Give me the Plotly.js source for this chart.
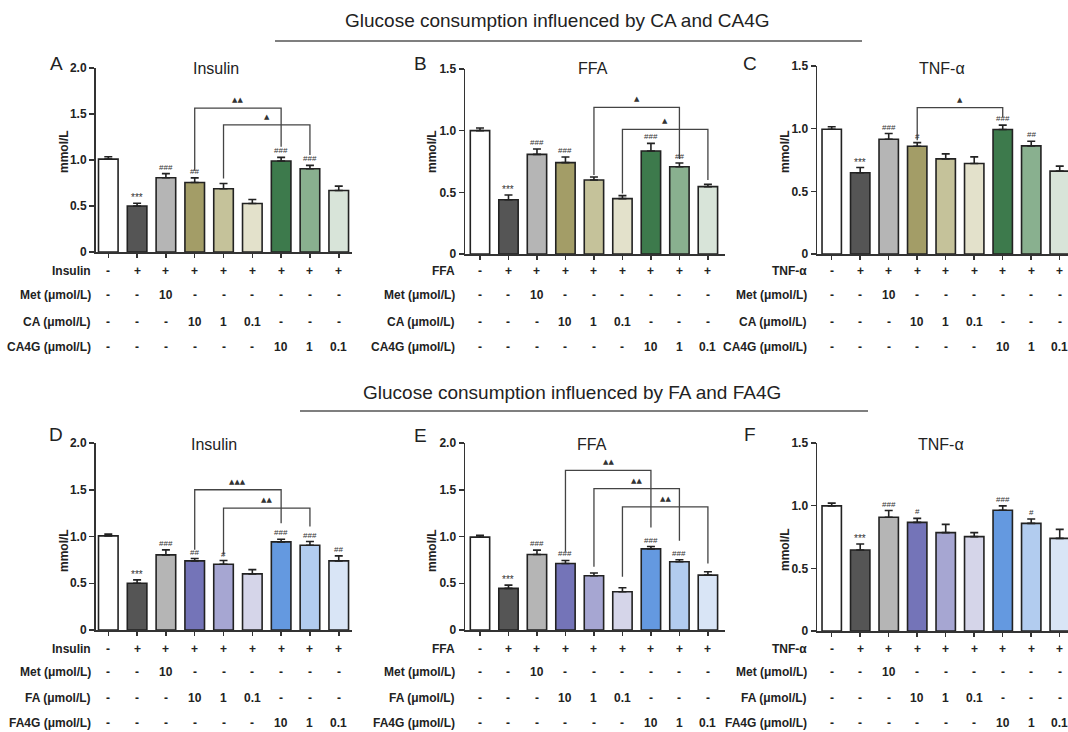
<!DOCTYPE html>
<html>
<head>
<meta charset="utf-8">
<script src="https://cdn.plot.ly/plotly-3.0.1.min.js"></script>
<style>html,body{margin:0;padding:0;background:#fff;}#chart{width:1068px;height:732px;}</style>
</head>
<body>
<div id="chart"></div>
<script>
// ---------- data ----------
const groups = ['Control', 'Model', 'Met 10', 'Drug 10', 'Drug 1', 'Drug 0.1', 'Gluc 10', 'Gluc 1', 'Gluc 0.1'];

const insulinCA    = [1.01, 0.50, 0.807, 0.756, 0.687, 0.527, 0.989, 0.905, 0.669];
const insulinCAErr = [0.025, 0.03, 0.045, 0.05, 0.058, 0.044, 0.04, 0.037, 0.047];
const ffaCA        = [1.0, 0.44, 0.808, 0.741, 0.6, 0.449, 0.835, 0.708, 0.546];
const ffaCAErr     = [0.022, 0.038, 0.043, 0.045, 0.024, 0.024, 0.062, 0.03, 0.019];
const tnfCA        = [0.995, 0.648, 0.916, 0.86, 0.759, 0.722, 0.993, 0.863, 0.661];
const tnfCAErr     = [0.02, 0.042, 0.045, 0.029, 0.04, 0.053, 0.035, 0.037, 0.04];
const insulinFA    = [1.007, 0.5, 0.804, 0.739, 0.704, 0.6, 0.943, 0.907, 0.739];
const insulinFAErr = [0.018, 0.036, 0.053, 0.025, 0.039, 0.046, 0.028, 0.039, 0.054];
const ffaFA        = [0.993, 0.445, 0.808, 0.712, 0.58, 0.409, 0.868, 0.73, 0.587];
const ffaFAErr     = [0.021, 0.035, 0.046, 0.032, 0.029, 0.043, 0.025, 0.021, 0.036];
const tnfFA        = [0.998, 0.646, 0.907, 0.867, 0.785, 0.753, 0.963, 0.859, 0.739];
const tnfFAErr     = [0.022, 0.048, 0.054, 0.032, 0.066, 0.032, 0.035, 0.035, 0.072];

const sigA = ['', '***', '###', '##', '', '', '###', '###', ''];
const sigB = ['', '***', '###', '###', '', '', '###', '##', ''];
const sigC = ['', '***', '###', '#', '', '', '###', '##', ''];
const sigD = ['', '***', '###', '##', '#', '', '###', '###', '##'];
const sigE = ['', '***', '###', '###', '', '', '###', '###', ''];
const sigF = ['', '***', '###', '#', '', '', '###', '#', ''];

// brackets: [fromBar, toBar, leftLegBottom, top, rightLegBottom, label]
const bracketsA = [[3, 6, 0.884, 1.564, 1.145, '▲▲'], [4, 7, 0.80, 1.382, 1.055, '▲']];
const bracketsB = [[4, 7, 0.64, 1.189, 0.77, '▲'], [5, 8, 0.49, 1.011, 0.6, '▲']];
const bracketsC = [[3, 6, 0.908, 1.168, 1.094, '▲']];
const bracketsD = [[3, 6, 0.857, 1.5, 1.143, '▲▲▲'], [4, 7, 0.804, 1.304, 1.107, '▲▲']];
const bracketsE = [[3, 6, 0.836, 1.708, 1.096, '▲▲'], [4, 7, 0.676, 1.512, 0.954, '▲▲'], [5, 8, 0.569, 1.317, 0.712, '▲▲']];
const bracketsF = [];

const rowStim = ['-', '+', '+', '+', '+', '+', '+', '+', '+'];
const rowMet  = ['-', '-', '10', '-', '-', '-', '-', '-', '-'];
const rowDrug = ['-', '-', '-', '10', '1', '0.1', '-', '-', '-'];
const rowGluc = ['-', '-', '-', '-', '-', '-', '10', '1', '0.1'];

const colorsCA = ['#ffffff', '#555555', '#b5b5b5', '#a39d67', '#c5c29a', '#e3e1cb', '#3d7a4c', '#89b08f', '#d8e4d9'];
const colorsFA = ['#ffffff', '#555555', '#b5b5b5', '#7474b8', '#a6a6d2', '#d5d5e9', '#6499e0', '#b2ccef', '#d9e5f6'];

const ticks15 = [0, 0.5, 1.0, 1.5];
const ticks15Text = ['0', '0.5', '1.0', '1.5'];
const ticks20 = [0, 0.5, 1.0, 1.5, 2.0];
const ticks20Text = ['0', '0.5', '1.0', '1.5', '2.0'];

const headerTop = 'Glucose consumption influenced by CA and CA4G';
const headerBottom = 'Glucose consumption influenced by FA and FA4G';

// ---------- layout helpers ----------
const W = 1068, H = 732;
const fx = p => p / W;
const fy = p => 1 - p / H;
const FONT = 'Liberation Sans, Arial, Helvetica, sans-serif';
const INK = '#222222';

const panels = [
  {letter: 'A', title: 'Insulin', vals: insulinCA, errs: insulinCAErr, colors: colorsCA, sig: sigA, br: bracketsA,
   x0: 95.5, x1: 352, y0: 252, y1: 68, ymax: 2, tv: ticks20, tt: ticks20Text, xr: [-0.444, 8.46],
   letterPos: [56, 63], titlePos: [216, 68], ylabPos: [64, 152], rowRight: 93, rowY: [271, 295, 322, 347],
   rows: ['Insulin', 'Met (μmol/L)', 'CA (μmol/L)', 'CA4G (μmol/L)']},
  {letter: 'B', title: 'FFA', vals: ffaCA, errs: ffaCAErr, colors: colorsCA, sig: sigB, br: bracketsB,
   x0: 465, x1: 725, y0: 254, y1: 69, ymax: 1.5, tv: ticks15, tt: ticks15Text, xr: [-0.526, 8.6],
   letterPos: [420, 64], titlePos: [593, 68], ylabPos: [432, 152], rowRight: 457, rowY: [271, 295, 322, 347],
   rows: ['FFA', 'Met (μmol/L)', 'CA (μmol/L)', 'CA4G (μmol/L)']},
  {letter: 'C', title: 'TNF-α', vals: tnfCA, errs: tnfCAErr, colors: colorsCA, sig: sigC, br: bracketsC,
   x0: 817, x1: 1068, y0: 254, y1: 66, ymax: 1.5, tv: ticks15, tt: ticks15Text, xr: [-0.516, 8.29],
   letterPos: [750, 63], titlePos: [942, 68], ylabPos: [785, 152], rowRight: 809, rowY: [271, 295, 322, 347],
   rows: ['TNF-α', 'Met (μmol/L)', 'CA (μmol/L)', 'CA4G (μmol/L)']},
  {letter: 'D', title: 'Insulin', vals: insulinFA, errs: insulinFAErr, colors: colorsFA, sig: sigD, br: bracketsD,
   x0: 95.5, x1: 352, y0: 630, y1: 443, ymax: 2, tv: ticks20, tt: ticks20Text, xr: [-0.444, 8.46],
   letterPos: [56, 434], titlePos: [214, 445], ylabPos: [64, 551], rowRight: 93, rowY: [649, 672, 698, 723],
   rows: ['Insulin', 'Met (μmol/L)', 'FA (μmol/L)', 'FA4G (μmol/L)']},
  {letter: 'E', title: 'FFA', vals: ffaFA, errs: ffaFAErr, colors: colorsFA, sig: sigE, br: bracketsE,
   x0: 465, x1: 725, y0: 630, y1: 443, ymax: 2, tv: ticks20, tt: ticks20Text, xr: [-0.526, 8.6],
   letterPos: [420, 435], titlePos: [592, 445], ylabPos: [432, 551], rowRight: 457, rowY: [649, 672, 698, 723],
   rows: ['FFA', 'Met (μmol/L)', 'FA (μmol/L)', 'FA4G (μmol/L)']},
  {letter: 'F', title: 'TNF-α', vals: tnfFA, errs: tnfFAErr, colors: colorsFA, sig: sigF, br: bracketsF,
   x0: 817, x1: 1068, y0: 631, y1: 443, ymax: 1.5, tv: ticks15, tt: ticks15Text, xr: [-0.516, 8.29],
   letterPos: [750, 434], titlePos: [941, 445], ylabPos: [785, 550], rowRight: 809, rowY: [649, 672, 698, 723],
   rows: ['TNF-α', 'Met (μmol/L)', 'FA (μmol/L)', 'FA4G (μmol/L)']}
];

const data = [];
const layout = {
  width: W, height: H,
  margin: {l: 0, r: 0, t: 0, b: 0},
  paper_bgcolor: '#ffffff', plot_bgcolor: 'rgba(0,0,0,0)',
  showlegend: false,
  font: {family: FONT, color: INK},
  annotations: [], shapes: []
};

const xs = groups.map((g, i) => i);
const tableRows = [rowStim, rowMet, rowDrug, rowGluc];

panels.forEach((p, k) => {
  const n = k + 1;
  const xa = 'x' + (n === 1 ? '' : n), ya = 'y' + (n === 1 ? '' : n);
  data.push({
    type: 'bar', x: xs, y: p.vals, xaxis: xa, yaxis: ya, width: 0.68,
    marker: {color: p.colors, line: {color: INK, width: 1.6}},
    error_y: {type: 'data', array: p.errs, arrayminus: p.errs.map(() => 0), symmetric: false,
              color: INK, thickness: 1.6, width: 4},
    hoverinfo: 'skip'
  });
  layout['xaxis' + (n === 1 ? '' : n)] = {
    domain: [fx(p.x0), fx(p.x1)], range: p.xr, anchor: ya,
    showline: true, linecolor: '#333', linewidth: 1.5, mirror: false,
    ticks: 'outside', tickvals: xs, ticklen: 4, tickwidth: 1.5, tickcolor: '#333',
    showticklabels: false, showgrid: false, zeroline: false, fixedrange: true
  };
  layout['yaxis' + (n === 1 ? '' : n)] = {
    domain: [fy(p.y0), fy(p.y1)], range: [0, p.ymax], anchor: xa,
    showline: true, linecolor: '#333', linewidth: 1.5,
    ticks: 'outside', tickvals: p.tv, ticktext: p.tt, ticklen: 5, tickwidth: 1.5, tickcolor: '#333',
    tickfont: {family: FONT, size: 12, color: INK, weight: 'bold'},
    showgrid: false, zeroline: false, fixedrange: true
  };
  // significance marks
  p.sig.forEach((s, i) => {
    if (!s) return;
    const star = s.indexOf('*') >= 0;
    layout.annotations.push({xref: xa, yref: ya, x: i, y: p.vals[i] + p.errs[i], yanchor: 'bottom',
      yshift: star ? -2 : 0, text: s, showarrow: false,
      font: {size: star ? 10 : 8, color: '#333', family: FONT}});
  });
  // brackets
  p.br.forEach(b => {
    const [i, j, yl, yt, yr, lab] = b;
    layout.shapes.push({type: 'path', xref: xa, yref: ya,
      path: `M ${i},${yl} L ${i},${yt} L ${j},${yt} L ${j},${yr}`,
      line: {color: '#444', width: 1.3}});
    layout.annotations.push({xref: xa, yref: ya, x: (i + j) / 2, y: yt, yanchor: 'bottom', yshift: 2,
      text: lab, showarrow: false, font: {size: 7, color: '#333', family: 'DejaVu Sans, sans-serif'}});
  });
  // panel letter, title, y label
  layout.annotations.push({xref: 'paper', yref: 'paper', x: fx(p.letterPos[0]), y: fy(p.letterPos[1]),
    text: p.letter, showarrow: false, xanchor: 'center', yanchor: 'middle',
    font: {size: 19, color: INK, family: FONT}});
  layout.annotations.push({xref: 'paper', yref: 'paper', x: fx(p.titlePos[0]), y: fy(p.titlePos[1]),
    text: p.title, showarrow: false, xanchor: 'center', yanchor: 'middle',
    font: {size: 16, color: INK, family: FONT}});
  layout.annotations.push({xref: 'paper', yref: 'paper', x: fx(p.ylabPos[0]), y: fy(p.ylabPos[1]),
    text: 'mmol/L', textangle: -90, showarrow: false, xanchor: 'center', yanchor: 'middle',
    font: {size: 12, color: INK, family: FONT, weight: 'bold'}});
  // treatment table
  tableRows.forEach((row, r) => {
    layout.annotations.push({xref: 'paper', yref: 'paper', x: fx(p.rowRight), y: fy(p.rowY[r]),
      text: p.rows[r], showarrow: false, xanchor: 'right', yanchor: 'middle',
      font: {size: 12, color: INK, family: FONT, weight: 'bold'}});
    row.forEach((t, i) => {
      layout.annotations.push({xref: xa, yref: 'paper', x: i, y: fy(p.rowY[r]),
        text: t, showarrow: false, xanchor: 'center', yanchor: 'middle',
        font: {size: 12, color: INK, family: FONT, weight: 'bold'}});
    });
  });
});

// section headers
layout.annotations.push({xref: 'paper', yref: 'paper', x: fx(557), y: fy(20), text: headerTop,
  showarrow: false, xanchor: 'center', yanchor: 'middle', font: {size: 19, color: INK, family: FONT}});
layout.annotations.push({xref: 'paper', yref: 'paper', x: fx(572), y: fy(392), text: headerBottom,
  showarrow: false, xanchor: 'center', yanchor: 'middle', font: {size: 19, color: INK, family: FONT}});
layout.shapes.push({type: 'line', xref: 'paper', yref: 'paper', x0: fx(275), x1: fx(862), y0: fy(41), y1: fy(41),
  line: {color: '#555', width: 1.5}});
layout.shapes.push({type: 'line', xref: 'paper', yref: 'paper', x0: fx(300), x1: fx(868), y0: fy(411), y1: fy(411),
  line: {color: '#555', width: 1.5}});

Plotly.newPlot('chart', data, layout, {displayModeBar: false, staticPlot: true});
</script>
</body>
</html>
